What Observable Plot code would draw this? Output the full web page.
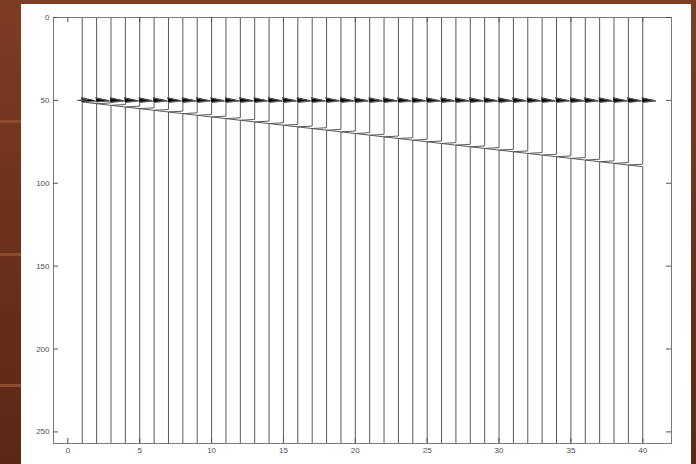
<!DOCTYPE html>
<html><head><meta charset="utf-8">
<script src="https://cdn.jsdelivr.net/npm/d3@7"></script>
<script src="https://cdn.jsdelivr.net/npm/@observablehq/plot@0.6"></script>
<style>
html,body{margin:0;padding:0;}
body{width:696px;height:464px;overflow:hidden;position:relative;background:linear-gradient(#7e3c23,#6c311b 50%,#5b2816);}
.stripe{position:absolute;left:0;width:21px;height:3px;background:#8c4b2d;}
#panel{position:absolute;left:21px;top:4px;width:670px;height:460px;background:#fff;}
#chart{position:absolute;left:0;top:0;}
</style></head><body>
<div class="stripe" style="top:120px"></div>
<div class="stripe" style="top:253px"></div>
<div class="stripe" style="top:384px"></div>
<div id="panel"></div>
<div id="chart"></div>
<script>
// Trace numbers (offsets)
const traces = [1,2,3,4,5,6,7,8,9,10,11,12,13,14,15,16,17,18,19,20,21,22,23,24,25,26,27,28,29,30,31,32,33,34,35,36,37,38,39,40];
// Time of the dipping event on each trace
const eventTimes = [51,52,53,54,55,56,57,58,59,60,61,62,63,64,65,66,67,68,69,70,71,72,73,74,75,76,77,78,79,80,81,82,83,84,85,86,87,88,89,90];
// Time of the flat (direct) event
const directTime = 50;
// Direct pulse shape (time offset, amplitude)
const directOffsets = [-1.3, -0.4, 0.4, 1.3];
const directAmps = [0, 0.45, 0.9, 0];
// Dipping event pulse shape (time offset, amplitude)
const eventOffsets = [-1.5, -1, 0];
const eventAmps = [0, -1, 0];
// Axis ticks
const xTicks = [0,5,10,15,20,25,30,35,40];
const yTicks = [0,50,100,150,200,250];
const tMax = 257;

function pulse(t, t0, offs, amps) {
  const u = t - t0;
  if (u <= offs[0] || u >= offs[offs.length - 1]) return 0;
  for (let k = 0; k < offs.length - 1; k++) {
    if (u >= offs[k] && u <= offs[k + 1]) {
      const f = (u - offs[k]) / (offs[k + 1] - offs[k]);
      return amps[k] + f * (amps[k + 1] - amps[k]);
    }
  }
  return 0;
}

const rows = [];
const fillRows = [];
traces.forEach((tr, i) => {
  const te = eventTimes[i];
  const times = [0, tMax]
    .concat(directOffsets.map(o => directTime + o))
    .concat(eventOffsets.map(o => te + o));
  const uniq = Array.from(new Set(times)).sort((a, b) => a - b);
  uniq.forEach(t => {
    const amp = pulse(t, directTime, directOffsets, directAmps) + pulse(t, te, eventOffsets, eventAmps);
    rows.push({trace: tr, t, amp});
  });
  directOffsets.forEach((o, k) => {
    fillRows.push({trace: tr, t: directTime + o, amp: directAmps[k]});
  });
});

const W = 696, H = 464, mL = 53, mR = 25, mT = 17, mB = 21;
const fw = W - mL - mR, fh = H - mT - mB;
const tick = 5;

const chart = Plot.plot({
  width: W, height: H,
  marginLeft: mL, marginRight: mR, marginTop: mT, marginBottom: mB,
  style: {background: "transparent", fontFamily: "'Liberation Sans', Arial, sans-serif", fontSize: "8px", color: "#555"},
  x: {domain: [-1, 42], label: null},
  y: {domain: [0, tMax], reverse: true, label: null},
  marks: [
    Plot.areaX(fillRows, {y: "t", x1: "trace", x2: d => d.trace + d.amp, z: "trace", fill: "#000", stroke: "#000", strokeWidth: 0.6}),
    Plot.line(rows, {x: d => d.trace + d.amp, y: "t", z: "trace", stroke: "#5a5a5a", strokeWidth: 1}),
    Plot.frame({stroke: "#7a7a7a"}),
    Plot.ruleX(xTicks, {x: d => d, insetBottom: fh - tick, stroke: "#555"}),
    Plot.ruleX(xTicks, {x: d => d, insetTop: fh - tick, stroke: "#555"}),
    Plot.ruleY(yTicks, {y: d => d, insetRight: fw - tick, stroke: "#555"}),
    Plot.ruleY(yTicks, {y: d => d, insetLeft: fw - tick, stroke: "#555"}),
    Plot.axisX(xTicks, {anchor: "bottom", tickSize: 0, tickPadding: 4, label: null, fill: "#505050"}),
    Plot.axisY(yTicks, {anchor: "left", tickSize: 0, tickPadding: 4, label: null, fill: "#505050"})
  ]
});
document.getElementById("chart").appendChild(chart);
</script>
</body></html>
